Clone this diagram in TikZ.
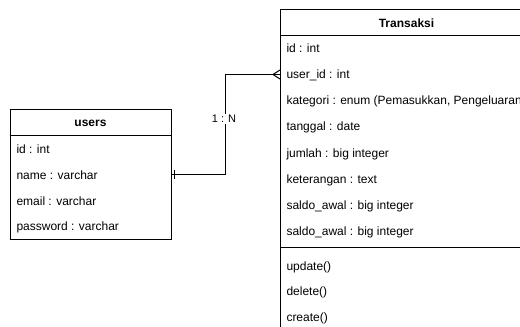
\documentclass[tikz,border=0pt]{standalone}
\usepackage{fontspec}
\setmainfont{Liberation Sans}
\begin{document}
\begin{tikzpicture}[x=1pt,y=-1pt,line width=1pt,
  row/.style={anchor=west,inner sep=0pt,font=\fontsize{12}{14}\selectfont},
  hdr/.style={inner sep=0pt,font=\fontsize{12}{14}\selectfont\bfseries},
  lbl/.style={fill=white,inner sep=1pt,font=\fontsize{11}{13}\selectfont}]
\useasboundingbox (0,0) rectangle (520,327);
\clip (0,0) rectangle (520,327);
% users
\draw (10,109.5) rectangle (171,239.5);
\draw (10,135) -- (171,135);
\node[hdr] (uh) at (90.5,123) {users};
\node[row] (u1) at (16,149) {id : int};
\node[row] (u2) at (16,175) {name : varchar};
\node[row] (u3) at (16,201) {email : varchar};
\node[row] (u4) at (16,227) {password : varchar};
% Transaksi
\draw (280,9.5) rectangle (533,345);
\draw (280,35) -- (533,35);
\draw (280,247.5) -- (533,247.5);
\node[hdr] (th) at (406.5,23) {Transaksi};
\node[row] (t1) at (286,48) {id : int};
\node[row] (t2) at (286,75) {user\_id : int};
\node[row] (t3) at (286,101) {kategori : enum (Pemasukkan, Pengeluaran)};
\node[row] (t4) at (286,127) {tanggal : date};
\node[row] (t5) at (286,154) {jumlah : big integer};
\node[row] (t6) at (286,180) {keterangan : text};
\node[row] (t7) at (286,206) {saldo\_awal : big integer};
\node[row] (t8) at (286,232) {saldo\_awal : big integer};
\node[row] (m1) at (286,267) {update()};
\node[row] (m2) at (286,292) {delete()};
\node[row] (m3) at (286,318) {create()};
% connector
\coordinate (a) at (171,174.5);
\coordinate (b) at (280,74.5);
\draw (a) -- (225.5,174.5) -- (225.5,74.5) -- (b);
\draw (174.5,170) -- (174.5,179);
\draw (280,70) -- (273,74.5) -- (280,79);
\node[lbl] (n) at (224,119) {1 : N};
\end{tikzpicture}
\end{document}
